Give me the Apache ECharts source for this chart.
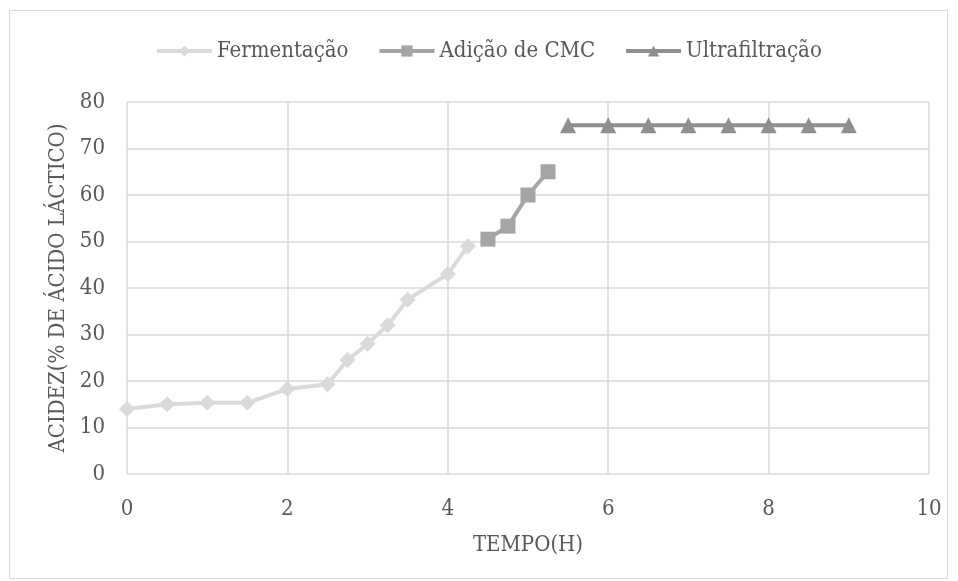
<!DOCTYPE html>
<html><head><meta charset="utf-8">
<script src="https://cdn.jsdelivr.net/npm/echarts@6/dist/echarts.min.js"></script>
<style>html,body{margin:0;padding:0;background:#fff}#c{width:958px;height:581px}</style>
</head><body><div id="c"></div>
<script>
const fermX = [0, 0.5, 1, 1.5, 2, 2.5, 2.75, 3, 3.25, 3.5, 4, 4.25];
const fermY = [14, 15, 15.3, 15.3, 18.3, 19.3, 24.5, 28, 32, 37.5, 43, 49];
const cmcX = [4.5, 4.75, 5, 5.25];
const cmcY = [50.5, 53.3, 60, 65];
const ultraX = [5.5, 6, 6.5, 7, 7.5, 8, 8.5, 9];
const ultraY = [75, 75, 75, 75, 75, 75, 75, 75];
const xTicks = [0, 2, 4, 6, 8, 10];
const yTicks = [0, 10, 20, 30, 40, 50, 60, 70, 80];
const names = ['Fermentação', 'Adição de CMC', 'Ultrafiltração'];

const font = '"DejaVu Serif Condensed", "DejaVu Serif", serif';
const txt = '#595959';
const fs = 22;
const pair = (xs, ys) => xs.map((x, i) => [x, ys[i]]);

const chart = echarts.init(document.getElementById('c'));
chart.setOption({
  animation: false,
  textStyle: { fontFamily: font, color: txt },
  graphic: [{ type: 'rect', shape: { x: 9.5, y: 10.5, width: 938, height: 568 },
    style: { fill: 'none', stroke: '#d9d9d9', lineWidth: 1 } }],
  legend: {
    top: 35, left: 150, itemWidth: 55, itemHeight: 14, itemGap: 29,
    textStyle: { fontFamily: font, fontSize: fs, color: txt },
    lineStyle: { width: 4 },
    data: names
  },
  grid: { left: 127, right: 29, top: 102, bottom: 107 },
  xAxis: {
    type: 'value', min: 0, max: 10, interval: 2,
    name: 'TEMPO(H)', nameLocation: 'middle', nameGap: 60,
    nameTextStyle: { fontFamily: font, fontSize: fs, color: txt },
    axisLine: { show: false }, axisTick: { show: false },
    axisLabel: { fontFamily: font, fontSize: fs, color: txt, margin: 24,
      formatter: v => xTicks.includes(v) ? String(v) : '' },
    splitLine: { show: true, lineStyle: { color: '#d9d9d9', width: 1.5 } }
  },
  yAxis: {
    type: 'value', min: 0, max: 80, interval: 10,
    name: 'ACIDEZ(% DE ÁCIDO LÁCTICO)', nameLocation: 'middle', nameGap: 58,
    nameTextStyle: { fontFamily: font, fontSize: fs, color: txt },
    axisLine: { show: false }, axisTick: { show: false },
    axisLabel: { fontFamily: font, fontSize: fs, color: txt, margin: 22,
      formatter: v => yTicks.includes(v) ? String(v) : '' },
    splitLine: { show: true, lineStyle: { color: '#d9d9d9', width: 1.5 } }
  },
  series: [
    { name: names[0], type: 'line', data: pair(fermX, fermY), symbol: 'diamond', symbolSize: 16,
      color: '#dadada', lineStyle: { width: 4, color: '#dadada' }, itemStyle: { color: '#dadada' } },
    { name: names[1], type: 'line', data: pair(cmcX, cmcY), symbol: 'rect', symbolSize: 15,
      color: '#a5a5a5', lineStyle: { width: 4, color: '#a5a5a5' }, itemStyle: { color: '#a5a5a5' } },
    { name: names[2], type: 'line', data: pair(ultraX, ultraY), symbol: 'triangle', symbolSize: 16,
      color: '#8f8f8f', lineStyle: { width: 4, color: '#8f8f8f' }, itemStyle: { color: '#8f8f8f' } }
  ]
});
</script></body></html>
